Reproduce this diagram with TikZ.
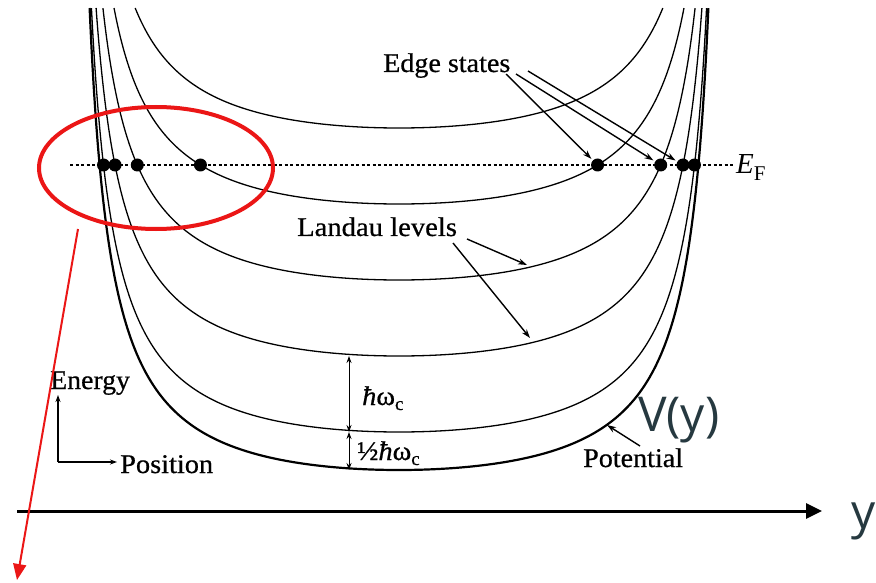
\documentclass[tikz,border=0pt]{standalone}
\usepackage{fontspec}
\setmainfont{Liberation Serif}
\newfontfamily\labelfont{Liberation Serif}[FakeBold=0.6]
\newfontfamily\sansf{Open Sans}
\usetikzlibrary{arrows.meta}
\definecolor{slate}{RGB}{38,57,64}
\definecolor{myred}{RGB}{235,22,22}
\tikzset{
  lbl/.style={font=\labelfont\fontsize{27}{30}\selectfont, inner sep=0pt, anchor=base west},
  sanslbl/.style={font=\sansf\fontsize{48}{52}\selectfont, text=slate, inner sep=0pt, anchor=base west},
  dot/.style={circle, fill=black, inner sep=0pt, minimum size=13pt},
  tipline/.style={line width=1.4pt, -{Stealth[length=9pt,width=6pt]}},
  dbl/.style={line width=1pt, {Stealth[length=7pt,width=5pt]}-{Stealth[length=7pt,width=5pt]}},
  fermi/.style={line width=1.6pt, dash pattern=on 3pt off 2.5pt},
}
\begin{document}
\begin{tikzpicture}[x=1pt,y=-1pt]
\fill[white] (0,0) rectangle (876,583);
\useasboundingbox (0,0) rectangle (876,583);

% potential and Landau levels (vertical shifts of the potential)
\foreach \s/\w in {0/2.2, 38/1.3, 114/1.3, 190/1.3, 266/1.3, 342/1.3} {
  \pgfmathsetmacro\tm{atan(sqrt((462-\s)/70))}
  \draw[line width=\w pt, line join=round] plot[domain=-\tm:\tm, samples=300, smooth]
    ({399+332*sin(\x)},{470-\s-70*tan(\x)^2});
}

% Fermi level
\coordinate (efL) at (70,165);
\coordinate (efR) at (733,165);
\draw[fermi] (efL) -- (efR);
\node[lbl, font=\fontsize{29}{31}\selectfont] (ef) at (736,174) {\textit{E}\raisebox{-7pt}{\fontsize{21}{21}\selectfont F}};

% edge-state dots
\foreach \s/\n in {38/1,114/2,190/3,266/4} {
  \pgfmathsetmacro\dx{332*sin(atan(sqrt((305-\s)/70)))}
  \node[dot] (dL\n) at ({399-\dx},165) {};
  \node[dot] (dR\n) at ({399+\dx},165) {};
}

% labels
\node[lbl] (es) at (383,72) {\scalebox{1.04}[1]{Edge states}};
\node[lbl] (ll) at (297,236) {\scalebox{1.06}[1]{Landau levels}};
\node[lbl] (en) at (50,389) {\scalebox{1.03}[1]{Energy}};
\node[lbl] (po) at (120,473) {\scalebox{1.05}[1]{Position}};
\node[lbl] (pt) at (583,467) {\scalebox{1.04}[1]{Potential}};
\node[lbl] (hw) at (362,405) {\scalebox{1.05}[1]{\textit{ħ}ω}\raisebox{-5pt}{\fontsize{19}{19}\selectfont c}};
\node[lbl] (hh) at (357,460) {\scalebox{1.05}[1]{½\textit{ħ}ω}\raisebox{-5pt}{\fontsize{19}{19}\selectfont c}};

% edge-state arrows
\coordinate (a1) at (506,74);
\coordinate (a2) at (516,74);
\coordinate (a3) at (528,71);
\draw[tipline, shorten >=2pt] (a1) -- (dR4);
\draw[tipline, shorten >=2pt] (a2) -- (dR3);
\draw[tipline, shorten >=2pt] (a3) -- (dR2);

% Landau-level arrows
\coordinate (l1) at (467,239);
\coordinate (l1t) at (527,265);
\coordinate (l2) at (453,243);
\coordinate (l2t) at (530,338);
\draw[tipline] (l1) -- (l1t);
\draw[tipline] (l2) -- (l2t);

% potential arrow
\coordinate (p0) at (640,446);
\coordinate (p1) at (607,425);
\draw[tipline] (p0) -- (p1);

% hbar omega arrows
\coordinate (h1) at (349,356);
\coordinate (h2) at (349,432);
\coordinate (h3) at (349,470);
\draw[dbl] (h1) -- (h2);
\draw[dbl] (h2) -- (h3);

% small energy/position axes
\coordinate (o) at (58,462);
\coordinate (eup) at (58,395);
\coordinate (pr) at (117,462);
\draw[line width=1.2pt, -{Stealth[length=7pt,width=5pt]}] (o) -- (eup);
\draw[line width=1.2pt, -{Stealth[length=7pt,width=5pt]}] (o) -- (pr);

% big y axis
\coordinate (ax0) at (17,511);
\coordinate (ax1) at (822,511);
\draw[line width=3pt, -{Triangle[length=16pt,width=15pt]}] (ax0) -- (ax1);
\node[sanslbl] (yl) at (851,528) {y};
\node[sanslbl] (vy) at (638,431) {V(y)};

% red ellipse and arrow
\draw[myred, line width=4pt] (156,168) ellipse [x radius=117pt, y radius=61pt];
\coordinate (r0) at (78,229);
\coordinate (r1) at (17,580);
\draw[myred, line width=2pt, -{Triangle[length=16pt,width=13pt]}] (r0) -- (r1);
\end{tikzpicture}
\end{document}
